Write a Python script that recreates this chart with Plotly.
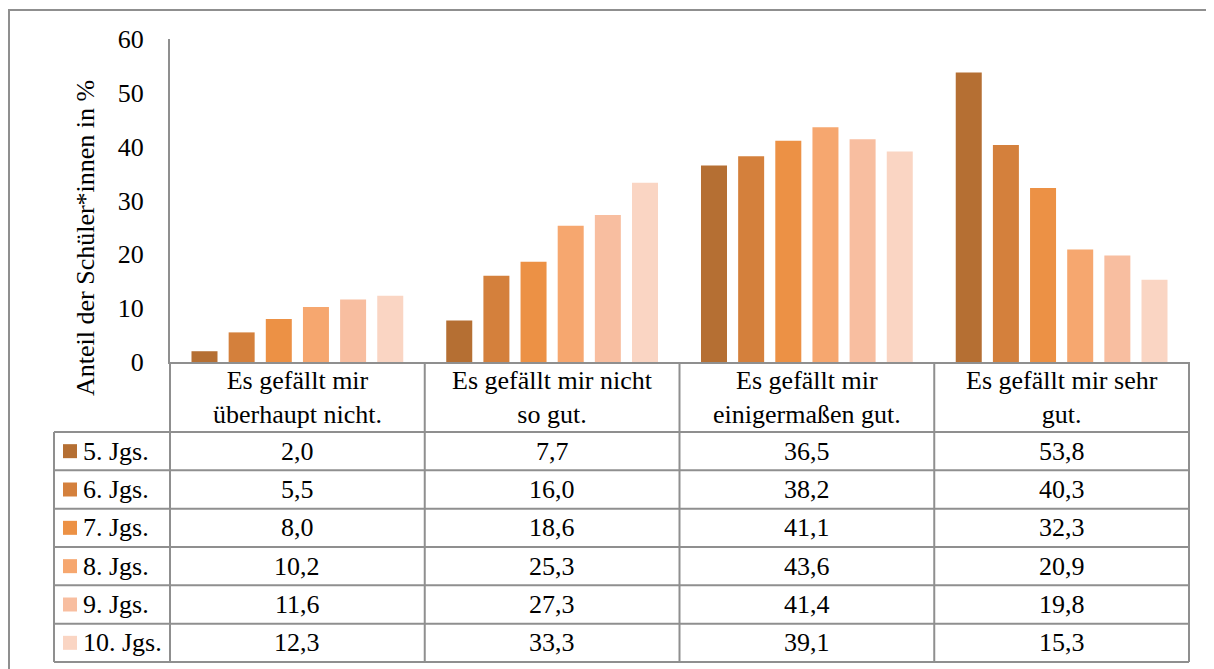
import plotly.graph_objects as go

# ---- data ----
categories = [
    "Es gefällt mir überhaupt nicht.",
    "Es gefällt mir nicht so gut.",
    "Es gefällt mir einigermaßen gut.",
    "Es gefällt mir sehr gut.",
]
category_lines = [
    ("Es gefällt mir", "überhaupt nicht."),
    ("Es gefällt mir nicht", "so gut."),
    ("Es gefällt mir", "einigermaßen gut."),
    ("Es gefällt mir sehr", "gut."),
]
grades = ["5. Jgs.", "6. Jgs.", "7. Jgs.", "8. Jgs.", "9. Jgs.", "10. Jgs."]
values = {
    "5. Jgs.": [2.0, 7.7, 36.5, 53.8],
    "6. Jgs.": [5.5, 16.0, 38.2, 40.3],
    "7. Jgs.": [8.0, 18.6, 41.1, 32.3],
    "8. Jgs.": [10.2, 25.3, 43.6, 20.9],
    "9. Jgs.": [11.6, 27.3, 41.4, 19.8],
    "10. Jgs.": [12.3, 33.3, 39.1, 15.3],
}
colors = ["#B56F33", "#D4803C", "#EC9145", "#F6A76F", "#F8BEA0", "#FAD5C3"]
y_ticks = [0, 10, 20, 30, 40, 50, 60]
y_title = "Anteil der Schüler*innen in %"

# ---- layout geometry (pixels, in screenshot coords; page has 8px body margin) ----
OFF = 8
W, H = 1214 - OFF, 669 - OFF
L, R, T, B = 170 - OFF, 25, 39 - OFF, 307
PW, PH = W - L - R, H - T - B
FONT = "Liberation Serif"
FS = 26
LINE = "#8f8f8f"


def px(xs):
    return (xs - OFF - L) / PW


def py(ys):
    return (T + PH - (ys - OFF)) / PH


fig = go.Figure()
for g, c in zip(grades, colors):
    fig.add_trace(go.Bar(x=categories, y=values[g], name=g,
                         marker=dict(color=c, line=dict(width=0))))

shapes = []
annotations = []

# outer chart border
shapes.append(dict(type="rect", xref="paper", yref="paper",
                   x0=px(9), x1=px(1222), y0=py(10), y1=py(677),
                   line=dict(color=LINE, width=2)))

n = len(categories)
header_top, header_bot = 362, 432
table_left = 54
row_tops = [header_bot + i * (662 - header_bot) / len(grades) for i in range(len(grades) + 1)]

# vertical lines at category boundaries
for i in range(n + 1):
    xb = i / n
    shapes.append(dict(type="line", xref="paper", yref="paper",
                       x0=xb, x1=xb, y0=py(header_top), y1=py(row_tops[-1]),
                       line=dict(color=LINE, width=2)))
# legend column left line
shapes.append(dict(type="line", xref="paper", yref="paper",
                   x0=px(table_left), x1=px(table_left), y0=py(header_bot), y1=py(row_tops[-1]),
                   line=dict(color=LINE, width=2)))
# horizontal row lines
for yt in row_tops:
    shapes.append(dict(type="line", xref="paper", yref="paper",
                       x0=px(table_left), x1=1, y0=py(yt), y1=py(yt),
                       line=dict(color=LINE, width=2)))

# header labels
for cat, (l1, l2) in zip(categories, category_lines):
    annotations.append(dict(x=cat, xref="x", yref="paper",
                            y=py((header_top + header_bot) / 2),
                            text=l1 + "<br>" + l2, showarrow=False,
                            font=dict(family=FONT, size=FS, color="#000"),
                            align="center", xanchor="center", yanchor="middle"))

# rows
for r, (g, c) in enumerate(zip(grades, colors)):
    yc = (row_tops[r] + row_tops[r + 1]) / 2
    shapes.append(dict(type="rect", xref="paper", yref="paper",
                       x0=px(63), x1=px(77), y0=py(yc - 7), y1=py(yc + 7),
                       fillcolor=c, line=dict(width=0)))
    annotations.append(dict(x=px(81), xref="paper", y=py(yc), yref="paper",
                            text=g, showarrow=False, xanchor="left", yanchor="middle",
                            font=dict(family=FONT, size=FS, color="#000")))
    for cat, v in zip(categories, values[g]):
        annotations.append(dict(x=cat, xref="x", y=py(yc), yref="paper",
                                text=f"{v:.1f}".replace(".", ","), showarrow=False,
                                xanchor="center", yanchor="middle",
                                font=dict(family=FONT, size=FS, color="#000")))

# y axis title
annotations.append(dict(x=px(85), xref="paper", y=py(238), yref="paper",
                        text=y_title, textangle=-90, showarrow=False,
                        xanchor="center", yanchor="middle",
                        font=dict(family=FONT, size=FS, color="#000")))

fig.update_layout(
    width=W, height=H,
    margin=dict(l=L, r=R, t=T, b=B, autoexpand=False),
    paper_bgcolor="white", plot_bgcolor="white",
    barmode="group", bargap=0.125, bargroupgap=0.3,
    showlegend=False,
    font=dict(family=FONT, size=FS, color="#000"),
    xaxis=dict(showticklabels=False, showgrid=False, zeroline=False,
               showline=True, linecolor=LINE, linewidth=2, ticks="",
               range=[-0.5, n - 0.5], fixedrange=True),
    yaxis=dict(range=[0, 60], tickvals=y_ticks, showgrid=False, zeroline=False,
               showline=True, linecolor=LINE, linewidth=2, ticks="",
               ticklabelstandoff=19,
               tickfont=dict(family=FONT, size=FS, color="#000")),
    shapes=shapes, annotations=annotations,
)

fig.write_html("out.html")
